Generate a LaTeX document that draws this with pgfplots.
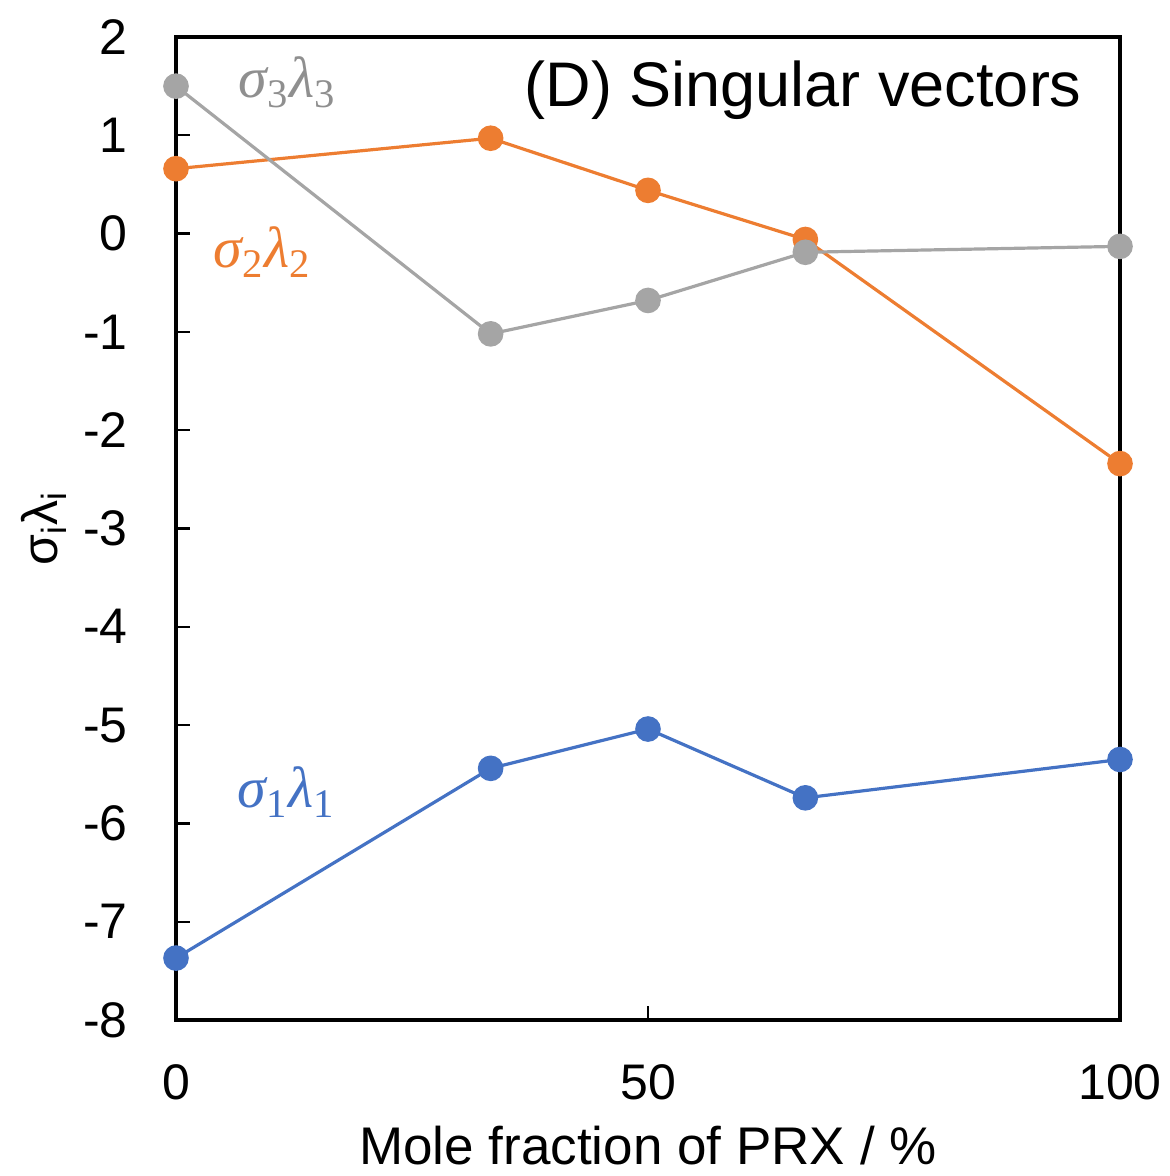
\documentclass[border=0pt]{standalone}
\usepackage{fontspec}
\setmainfont{Liberation Sans}
\newfontfamily\lblfont{Liberation Serif}
\usepackage{pgfplots}
\pgfplotsset{compat=1.18}
\definecolor{sblue}{HTML}{4472C4}
\definecolor{sorange}{HTML}{ED7D31}
\definecolor{sgray}{HTML}{A5A5A5}
\definecolor{lgray}{HTML}{8F8F8F}
\newcommand{\siglam}[1]{{\lblfont\itshape σ\textsubscript{\upshape #1}\kern0.5pt λ\textsubscript{\upshape #1}}}
\begin{document}
\begin{tikzpicture}
\useasboundingbox (-88pt,-78pt) rectangle (497pt,510pt);
\begin{axis}[
  at={(0,0)}, anchor=south west,
  scale only axis, width=472pt, height=491.5pt,
  xmin=0, xmax=100, ymin=-8, ymax=2,
  xtick={0,50,100}, ytick={-8,-7,-6,-5,-4,-3,-2,-1,0,1,2},
  tick pos=left, tick align=inside,
  major tick length=7pt,
  axis line style={line width=1.6pt},
  every tick/.style={black, line width=1.2pt},
  /pgf/number format/assume math mode=true,
  tick label style={font=\fontsize{25}{30}\selectfont},
  yticklabel style={inner sep=0pt, anchor=east, xshift=-24pt},
  xticklabel style={inner sep=0pt, anchor=north, yshift=-22pt},
  clip=false,
]
\addplot[sblue, line width=1.6pt, mark=*, mark size=5.6pt, mark options={fill=sblue, draw=sblue}] coordinates {
  (0,-7.37) (33.33,-5.44) (50,-5.04) (66.67,-5.74) (100,-5.35)};
\addplot[sorange, line width=1.6pt, mark=*, mark size=5.6pt, mark options={fill=sorange, draw=sorange}] coordinates {
  (0,0.66) (33.33,0.97) (50,0.44) (66.67,-0.06) (100,-2.34)};
\addplot[sgray, line width=1.6pt, mark=*, mark size=5.6pt, mark options={fill=sgray, draw=sgray}] coordinates {
  (0,1.50) (33.33,-1.02) (50,-0.68) (66.67,-0.19) (100,-0.13)};
\end{axis}
\node[anchor=base east, inner sep=0pt, font=\fontsize{31.5}{36}\selectfont] at (453pt,456.5pt) {(D) Singular vectors};
\node[anchor=base west, inner sep=0pt, text=lgray, font=\fontsize{29}{32}\selectfont] at (31pt,461pt) {\siglam{3}};
\node[anchor=base west, inner sep=0pt, text=sorange, font=\fontsize{29}{32}\selectfont] at (18.5pt,376pt) {\siglam{2}};
\node[anchor=base west, inner sep=0pt, text=sblue, font=\fontsize{29}{32}\selectfont] at (30.5pt,106pt) {\siglam{1}};
\node[anchor=base, inner sep=0pt, font=\fontsize{26.5}{30}\selectfont] at (236pt,-72pt) {Mole fraction of PRX / \%};
\node[anchor=base, rotate=90, inner sep=0pt, font=\fontsize{25}{30}\selectfont] at (-59pt,245.75pt) {σ\textsubscript{i}λ\textsubscript{i}};
\end{tikzpicture}
\end{document}
